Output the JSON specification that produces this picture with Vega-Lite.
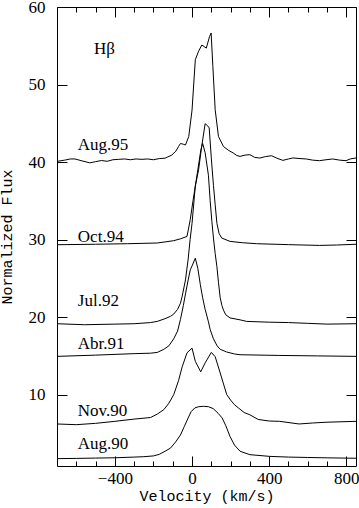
{
  "$schema": "https://vega.github.io/schema/vega-lite/v6.json",
  "width": 299,
  "height": 459,
  "autosize": {"type": "none"},
  "padding": {"left": 57, "top": 7, "right": 3, "bottom": 42},
  "background": "white",
  "config": {"view": {"stroke": "black", "strokeWidth": 1}},
  "datasets": {
    "spectra": [
      {"series": "Aug.90", "v": -700, "flux": 1.75}, {"series": "Aug.90", "v": -600, "flux": 1.78}, {"series": "Aug.90", "v": -500, "flux": 1.82}, {"series": "Aug.90", "v": -400, "flux": 1.86}, {"series": "Aug.90", "v": -300, "flux": 1.95}, {"series": "Aug.90", "v": -250, "flux": 2.0}, {"series": "Aug.90", "v": -200, "flux": 2.1}, {"series": "Aug.90", "v": -170, "flux": 2.3}, {"series": "Aug.90", "v": -140, "flux": 2.7}, {"series": "Aug.90", "v": -112, "flux": 3.1}, {"series": "Aug.90", "v": -85, "flux": 3.9}, {"series": "Aug.90", "v": -60, "flux": 4.8}, {"series": "Aug.90", "v": -40, "flux": 5.9}, {"series": "Aug.90", "v": -20, "flux": 7.0}, {"series": "Aug.90", "v": -5, "flux": 7.8}, {"series": "Aug.90", "v": 15, "flux": 8.3}, {"series": "Aug.90", "v": 35, "flux": 8.45}, {"series": "Aug.90", "v": 60, "flux": 8.5}, {"series": "Aug.90", "v": 85, "flux": 8.45}, {"series": "Aug.90", "v": 110, "flux": 8.2}, {"series": "Aug.90", "v": 135, "flux": 7.6}, {"series": "Aug.90", "v": 156, "flux": 7.0}, {"series": "Aug.90", "v": 175, "flux": 6.0}, {"series": "Aug.90", "v": 197, "flux": 4.6}, {"series": "Aug.90", "v": 220, "flux": 3.5}, {"series": "Aug.90", "v": 249, "flux": 2.7}, {"series": "Aug.90", "v": 300, "flux": 2.26}, {"series": "Aug.90", "v": 403, "flux": 2.04}, {"series": "Aug.90", "v": 500, "flux": 1.95}, {"series": "Aug.90", "v": 600, "flux": 1.9}, {"series": "Aug.90", "v": 700, "flux": 1.85}, {"series": "Aug.90", "v": 850, "flux": 1.8},

      {"series": "Nov.90", "v": -700, "flux": 6.22}, {"series": "Nov.90", "v": -600, "flux": 6.13}, {"series": "Nov.90", "v": -500, "flux": 6.3}, {"series": "Nov.90", "v": -400, "flux": 6.56}, {"series": "Nov.90", "v": -300, "flux": 6.85}, {"series": "Nov.90", "v": -215, "flux": 7.05}, {"series": "Nov.90", "v": -180, "flux": 7.5}, {"series": "Nov.90", "v": -146, "flux": 8.07}, {"series": "Nov.90", "v": -120, "flux": 8.9}, {"series": "Nov.90", "v": -95, "flux": 10.0}, {"series": "Nov.90", "v": -70, "flux": 11.8}, {"series": "Nov.90", "v": -51, "flux": 13.6}, {"series": "Nov.90", "v": -26, "flux": 15.4}, {"series": "Nov.90", "v": 0, "flux": 16.0}, {"series": "Nov.90", "v": 17, "flux": 14.3}, {"series": "Nov.90", "v": 45, "flux": 12.95}, {"series": "Nov.90", "v": 68, "flux": 14.1}, {"series": "Nov.90", "v": 100, "flux": 15.45}, {"series": "Nov.90", "v": 120, "flux": 14.9}, {"series": "Nov.90", "v": 146, "flux": 12.8}, {"series": "Nov.90", "v": 180, "flux": 10.0}, {"series": "Nov.90", "v": 200, "flux": 9.3}, {"series": "Nov.90", "v": 220, "flux": 8.7}, {"series": "Nov.90", "v": 240, "flux": 8.3}, {"series": "Nov.90", "v": 270, "flux": 7.7}, {"series": "Nov.90", "v": 300, "flux": 7.4}, {"series": "Nov.90", "v": 343, "flux": 6.8}, {"series": "Nov.90", "v": 400, "flux": 6.6}, {"series": "Nov.90", "v": 454, "flux": 6.56}, {"series": "Nov.90", "v": 555, "flux": 6.22}, {"series": "Nov.90", "v": 626, "flux": 6.35}, {"series": "Nov.90", "v": 700, "flux": 6.45}, {"series": "Nov.90", "v": 850, "flux": 6.56},

      {"series": "Abr.91", "v": -700, "flux": 14.94}, {"series": "Abr.91", "v": -500, "flux": 15.1}, {"series": "Abr.91", "v": -300, "flux": 15.29}, {"series": "Abr.91", "v": -215, "flux": 15.35}, {"series": "Abr.91", "v": -180, "flux": 15.45}, {"series": "Abr.91", "v": -146, "flux": 15.85}, {"series": "Abr.91", "v": -120, "flux": 16.3}, {"series": "Abr.91", "v": -95, "flux": 17.2}, {"series": "Abr.91", "v": -75, "flux": 18.2}, {"series": "Abr.91", "v": -60, "flux": 19.7}, {"series": "Abr.91", "v": -45, "flux": 21.5}, {"series": "Abr.91", "v": -34, "flux": 23.0}, {"series": "Abr.91", "v": -20, "flux": 24.8}, {"series": "Abr.91", "v": -9, "flux": 26.1}, {"series": "Abr.91", "v": 0, "flux": 26.6}, {"series": "Abr.91", "v": 17, "flux": 27.6}, {"series": "Abr.91", "v": 30, "flux": 26.3}, {"series": "Abr.91", "v": 43, "flux": 24.2}, {"series": "Abr.91", "v": 55, "flux": 22.5}, {"series": "Abr.91", "v": 68, "flux": 21.0}, {"series": "Abr.91", "v": 85, "flux": 19.4}, {"series": "Abr.91", "v": 94, "flux": 18.4}, {"series": "Abr.91", "v": 111, "flux": 17.2}, {"series": "Abr.91", "v": 130, "flux": 16.3}, {"series": "Abr.91", "v": 146, "flux": 15.85}, {"series": "Abr.91", "v": 180, "flux": 15.5}, {"series": "Abr.91", "v": 220, "flux": 15.25}, {"series": "Abr.91", "v": 249, "flux": 15.15}, {"series": "Abr.91", "v": 450, "flux": 15.06}, {"series": "Abr.91", "v": 650, "flux": 15.0}, {"series": "Abr.91", "v": 850, "flux": 14.94},

      {"series": "Jul.92", "v": -700, "flux": 19.15}, {"series": "Jul.92", "v": -558, "flux": 19.02}, {"series": "Jul.92", "v": -400, "flux": 19.1}, {"series": "Jul.92", "v": -300, "flux": 19.15}, {"series": "Jul.92", "v": -215, "flux": 19.3}, {"series": "Jul.92", "v": -180, "flux": 19.45}, {"series": "Jul.92", "v": -140, "flux": 19.8}, {"series": "Jul.92", "v": -112, "flux": 20.1}, {"series": "Jul.92", "v": -95, "flux": 20.4}, {"series": "Jul.92", "v": -75, "flux": 21.0}, {"series": "Jul.92", "v": -60, "flux": 21.8}, {"series": "Jul.92", "v": -51, "flux": 22.7}, {"series": "Jul.92", "v": -34, "flux": 24.8}, {"series": "Jul.92", "v": -20, "flux": 27.5}, {"series": "Jul.92", "v": -10, "flux": 30.0}, {"series": "Jul.92", "v": 0, "flux": 32.1}, {"series": "Jul.92", "v": 17, "flux": 36.9}, {"series": "Jul.92", "v": 30, "flux": 39.0}, {"series": "Jul.92", "v": 46, "flux": 41.6}, {"series": "Jul.92", "v": 55, "flux": 42.4}, {"series": "Jul.92", "v": 68, "flux": 41.2}, {"series": "Jul.92", "v": 85, "flux": 38.3}, {"series": "Jul.92", "v": 94, "flux": 35.0}, {"series": "Jul.92", "v": 103, "flux": 32.3}, {"series": "Jul.92", "v": 111, "flux": 30.2}, {"series": "Jul.92", "v": 120, "flux": 28.2}, {"series": "Jul.92", "v": 129, "flux": 26.5}, {"series": "Jul.92", "v": 137, "flux": 24.5}, {"series": "Jul.92", "v": 146, "flux": 22.5}, {"series": "Jul.92", "v": 155, "flux": 21.5}, {"series": "Jul.92", "v": 163, "flux": 20.9}, {"series": "Jul.92", "v": 175, "flux": 20.3}, {"series": "Jul.92", "v": 197, "flux": 19.9}, {"series": "Jul.92", "v": 249, "flux": 19.65}, {"series": "Jul.92", "v": 283, "flux": 19.45}, {"series": "Jul.92", "v": 400, "flux": 19.35}, {"series": "Jul.92", "v": 500, "flux": 19.3}, {"series": "Jul.92", "v": 600, "flux": 19.2}, {"series": "Jul.92", "v": 700, "flux": 19.1}, {"series": "Jul.92", "v": 850, "flux": 19.15},

      {"series": "Oct.94", "v": -700, "flux": 29.34}, {"series": "Oct.94", "v": -500, "flux": 29.4}, {"series": "Oct.94", "v": -335, "flux": 29.47}, {"series": "Oct.94", "v": -180, "flux": 29.56}, {"series": "Oct.94", "v": -95, "flux": 29.86}, {"series": "Oct.94", "v": -60, "flux": 30.1}, {"series": "Oct.94", "v": -26, "flux": 30.41}, {"series": "Oct.94", "v": -9, "flux": 32.6}, {"series": "Oct.94", "v": 5, "flux": 35.0}, {"series": "Oct.94", "v": 17, "flux": 36.9}, {"series": "Oct.94", "v": 34, "flux": 39.0}, {"series": "Oct.94", "v": 50, "flux": 42.0}, {"series": "Oct.94", "v": 68, "flux": 44.95}, {"series": "Oct.94", "v": 80, "flux": 44.7}, {"series": "Oct.94", "v": 89, "flux": 44.4}, {"series": "Oct.94", "v": 100, "flux": 40.5}, {"series": "Oct.94", "v": 111, "flux": 37.0}, {"series": "Oct.94", "v": 120, "flux": 34.5}, {"series": "Oct.94", "v": 129, "flux": 32.1}, {"series": "Oct.94", "v": 140, "flux": 30.8}, {"series": "Oct.94", "v": 154, "flux": 30.2}, {"series": "Oct.94", "v": 197, "flux": 29.77}, {"series": "Oct.94", "v": 260, "flux": 29.6}, {"series": "Oct.94", "v": 335, "flux": 29.47}, {"series": "Oct.94", "v": 500, "flux": 29.35}, {"series": "Oct.94", "v": 660, "flux": 29.25}, {"series": "Oct.94", "v": 750, "flux": 29.3}, {"series": "Oct.94", "v": 850, "flux": 29.4},

      {"series": "Aug.95", "v": -700, "flux": 40.09}, {"series": "Aug.95", "v": -660, "flux": 40.25}, {"series": "Aug.95", "v": -630, "flux": 40.4}, {"series": "Aug.95", "v": -607, "flux": 40.4}, {"series": "Aug.95", "v": -570, "flux": 40.15}, {"series": "Aug.95", "v": -530, "flux": 39.9}, {"series": "Aug.95", "v": -500, "flux": 40.05}, {"series": "Aug.95", "v": -470, "flux": 40.2}, {"series": "Aug.95", "v": -440, "flux": 40.1}, {"series": "Aug.95", "v": -410, "flux": 40.3}, {"series": "Aug.95", "v": -380, "flux": 40.35}, {"series": "Aug.95", "v": -350, "flux": 40.4}, {"series": "Aug.95", "v": -320, "flux": 40.3}, {"series": "Aug.95", "v": -290, "flux": 40.4}, {"series": "Aug.95", "v": -260, "flux": 40.35}, {"series": "Aug.95", "v": -230, "flux": 40.4}, {"series": "Aug.95", "v": -200, "flux": 40.3}, {"series": "Aug.95", "v": -170, "flux": 40.45}, {"series": "Aug.95", "v": -140, "flux": 40.5}, {"series": "Aug.95", "v": -127, "flux": 40.65}, {"series": "Aug.95", "v": -105, "flux": 40.9}, {"series": "Aug.95", "v": -84, "flux": 41.4}, {"series": "Aug.95", "v": -70, "flux": 42.0}, {"series": "Aug.95", "v": -60, "flux": 42.4}, {"series": "Aug.95", "v": -45, "flux": 42.3}, {"series": "Aug.95", "v": -34, "flux": 42.2}, {"series": "Aug.95", "v": -17, "flux": 43.3}, {"series": "Aug.95", "v": 0, "flux": 46.7}, {"series": "Aug.95", "v": 17, "flux": 53.2}, {"series": "Aug.95", "v": 34, "flux": 54.3}, {"series": "Aug.95", "v": 51, "flux": 55.1}, {"series": "Aug.95", "v": 74, "flux": 54.7}, {"series": "Aug.95", "v": 91, "flux": 56.2}, {"series": "Aug.95", "v": 99, "flux": 56.65}, {"series": "Aug.95", "v": 108, "flux": 52.3}, {"series": "Aug.95", "v": 120, "flux": 46.75}, {"series": "Aug.95", "v": 137, "flux": 43.3}, {"series": "Aug.95", "v": 163, "flux": 42.0}, {"series": "Aug.95", "v": 190, "flux": 41.5}, {"series": "Aug.95", "v": 214, "flux": 41.17}, {"series": "Aug.95", "v": 232, "flux": 40.85}, {"series": "Aug.95", "v": 249, "flux": 40.73}, {"series": "Aug.95", "v": 275, "flux": 40.9}, {"series": "Aug.95", "v": 300, "flux": 40.95}, {"series": "Aug.95", "v": 325, "flux": 40.6}, {"series": "Aug.95", "v": 351, "flux": 40.52}, {"series": "Aug.95", "v": 380, "flux": 40.7}, {"series": "Aug.95", "v": 412, "flux": 40.82}, {"series": "Aug.95", "v": 440, "flux": 40.5}, {"series": "Aug.95", "v": 471, "flux": 40.22}, {"series": "Aug.95", "v": 500, "flux": 40.4}, {"series": "Aug.95", "v": 523, "flux": 40.53}, {"series": "Aug.95", "v": 560, "flux": 40.45}, {"series": "Aug.95", "v": 592, "flux": 40.4}, {"series": "Aug.95", "v": 625, "flux": 40.25}, {"series": "Aug.95", "v": 660, "flux": 40.18}, {"series": "Aug.95", "v": 695, "flux": 40.3}, {"series": "Aug.95", "v": 729, "flux": 40.4}, {"series": "Aug.95", "v": 765, "flux": 40.25}, {"series": "Aug.95", "v": 798, "flux": 40.18}, {"series": "Aug.95", "v": 820, "flux": 40.4}, {"series": "Aug.95", "v": 850, "flux": 40.53}
    ],
    "labels": [
      {"label": "Hβ", "v": -508, "flux": 53.9},
      {"label": "Aug.95", "v": -592, "flux": 41.5},
      {"label": "Oct.94", "v": -592, "flux": 29.7},
      {"label": "Jul.92", "v": -592, "flux": 21.5},
      {"label": "Abr.91", "v": -592, "flux": 15.9},
      {"label": "Nov.90", "v": -592, "flux": 7.3},
      {"label": "Aug.90", "v": -592, "flux": 3.05}
    ]
  },
  "encoding": {
    "x": {
      "field": "v", "type": "quantitative",
      "scale": {"domain": [-700, 850], "nice": false, "zero": false},
      "axis": {
        "values": [-600, -500, -400, -300, -200, -100, 0, 100, 200, 300, 400, 500, 600, 700, 800],
        "labelExpr": "datum.value % 400 === 0 ? datum.label : ''",
        "ticks": false, "domain": false,
        "grid": true, "gridColor": "black", "gridOpacity": 1, "gridWidth": 1,
        "gridDash": {"condition": {"test": "datum.value % 400 === 0", "value": [10, 439, 10, 0]}, "value": [5, 449, 5, 0]},
        "labelFont": "Liberation Serif", "labelFontSize": 17, "labelColor": "black", "labelPadding": 4,
        "labelFlush": false, "labelOverlap": false,
        "title": "Velocity (km/s)", "titleFont": "Liberation Mono", "titleFontSize": 15, "titleFontWeight": "normal",
        "titleColor": "black", "titlePadding": 2
      }
    },
    "y": {
      "field": "flux", "type": "quantitative",
      "scale": {"domain": [0.8, 60], "nice": false, "zero": false},
      "axis": {
        "values": [10, 20, 30, 40, 50, 60],
        "ticks": false, "domain": false,
        "grid": true, "gridColor": "black", "gridOpacity": 1, "gridWidth": 1,
        "gridDash": [10, 279, 10, 0],
        "labelFont": "Liberation Serif", "labelFontSize": 17, "labelColor": "black", "labelPadding": 12,
        "labelFlush": false, "labelOverlap": false,
        "title": "Normalized Flux", "titleFont": "Liberation Mono", "titleFontSize": 15, "titleFontWeight": "normal",
        "titleColor": "black", "titlePadding": 14
      }
    }
  },
  "layer": [
    {
      "data": {"name": "spectra"},
      "mark": {"type": "line", "stroke": "black", "strokeWidth": 1},
      "encoding": {"detail": {"field": "series"}}
    },
    {
      "data": {"name": "labels"},
      "mark": {"type": "text", "align": "left", "baseline": "alphabetic", "font": "Liberation Serif", "fontSize": 17, "color": "black"},
      "encoding": {"text": {"field": "label"}}
    }
  ]
}
